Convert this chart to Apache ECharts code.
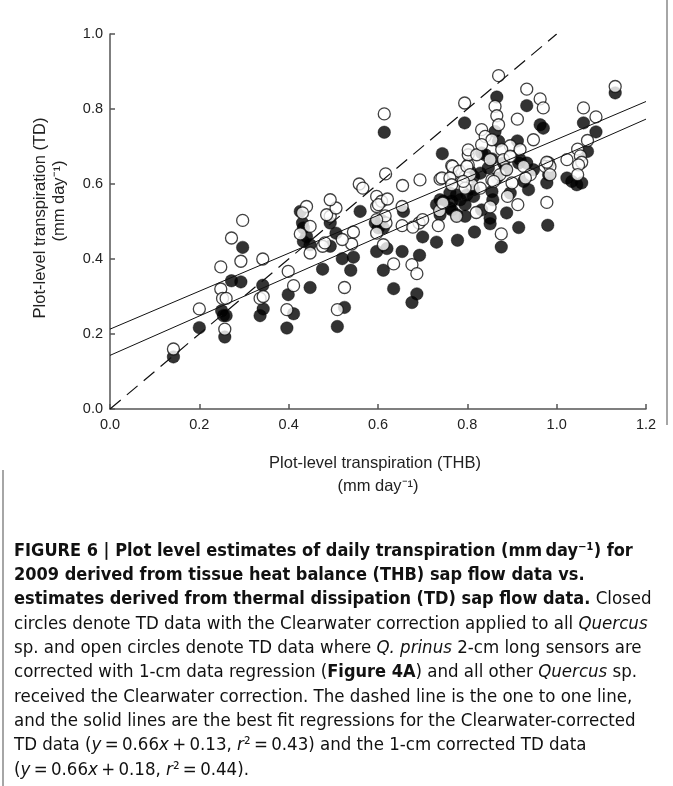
<!DOCTYPE html>
<html>
<head>
<meta charset="utf-8">
<script src="https://cdn.jsdelivr.net/npm/echarts@6/dist/echarts.min.js"></script>
<style>
  html, body { margin: 0; padding: 0; background: #fff; }
  #container { width: 673px; height: 786px; }
</style>
</head>
<body>
<div id="container"></div>
<script>
// THB (x) vs TD (y), mm/day
var closedPts = [
  [0.142,0.139],[0.200,0.217],[0.250,0.262],[0.254,0.249],[0.260,0.249],[0.257,0.192],[0.272,0.342],[0.297,0.431],
  [0.293,0.339],[0.342,0.330],[0.343,0.267],[0.336,0.249],[0.399,0.305],[0.396,0.216],[0.411,0.254],
  [0.448,0.324],[0.525,0.271],[0.509,0.220],[0.476,0.373],[0.539,0.370],[0.520,0.401],[0.545,0.405],[0.493,0.434],
  [0.506,0.469],[0.612,0.370],[0.635,0.321],[0.676,0.284],[0.687,0.307],[0.654,0.420],[0.693,0.410],[0.597,0.420],
  [0.620,0.428],[0.700,0.459],[0.731,0.445],[0.778,0.450],[0.816,0.472],[0.594,0.496],[0.608,0.503],[0.657,0.527],
  [0.560,0.527],[0.493,0.496],[0.426,0.527],[0.431,0.496],[0.433,0.447],[0.448,0.438],[0.440,0.460],[0.433,0.483],
  [0.601,0.483],[0.612,0.483],
  [0.614,0.738],[0.794,0.763],[0.744,0.681],[0.761,0.576],[0.776,0.571],[0.799,0.571],[0.814,0.567],[0.765,0.554],
  [0.784,0.558],[0.795,0.545],[0.731,0.545],[0.746,0.554],[0.739,0.518],[0.761,0.536],[0.776,0.518],[0.795,0.514],
  [0.739,0.558],[0.765,0.531],
  [0.866,0.832],[0.933,0.809],[0.963,0.758],[0.970,0.749],[0.862,0.740],[0.870,0.714],[0.912,0.715],[0.840,0.678],
  [0.855,0.667],[0.918,0.665],[0.933,0.656],[0.948,0.638],[0.982,0.625],[0.806,0.634],[0.829,0.629],[0.847,0.643],
  [0.866,0.616],[0.885,0.638],[0.881,0.656],[0.915,0.656],[0.832,0.683],
  [1.131,0.843],[1.060,0.763],[1.088,0.739],[1.069,0.687],[1.023,0.616],[1.034,0.607],[1.045,0.598],[1.056,0.603],
  [0.978,0.603],[0.888,0.523],[0.980,0.490],[0.915,0.484],[0.876,0.432],[0.851,0.509],[0.851,0.494],[0.832,0.531],
  [0.857,0.558],[0.855,0.580],[0.937,0.585],[0.896,0.576],[0.926,0.607],[0.814,0.620],[0.814,0.585]
];
var openPts = [
  [0.142,0.160],[0.200,0.267],[0.248,0.379],[0.248,0.320],[0.252,0.295],[0.260,0.295],[0.257,0.213],[0.272,0.456],
  [0.297,0.503],[0.293,0.394],[0.342,0.400],[0.336,0.295],[0.343,0.300],[0.399,0.367],[0.396,0.265],[0.411,0.329],
  [0.525,0.324],[0.509,0.265],[0.541,0.440],[0.520,0.452],[0.476,0.434],[0.481,0.443],[0.545,0.472],[0.635,0.387],
  [0.676,0.385],[0.687,0.361],[0.612,0.438],[0.735,0.489],[0.692,0.496],[0.700,0.505],[0.654,0.489],[0.678,0.485],
  [0.597,0.469],[0.618,0.496],[0.616,0.515],[0.597,0.505],[0.597,0.540],[0.654,0.540],[0.493,0.514],[0.485,0.518],
  [0.506,0.536],[0.493,0.558],[0.440,0.540],[0.431,0.523],[0.448,0.487],[0.426,0.467],[0.448,0.416],
  [0.614,0.787],[0.617,0.627],[0.558,0.600],[0.566,0.589],[0.655,0.596],[0.694,0.611],[0.739,0.613],[0.761,0.611],
  [0.597,0.567],[0.608,0.554],[0.601,0.545],[0.621,0.560],[0.738,0.529],[0.745,0.549],[0.776,0.514],
  [0.794,0.816],[0.765,0.649],[0.769,0.629],[0.788,0.634],[0.802,0.651],[0.802,0.678],[0.802,0.691],[0.821,0.678],
  [0.795,0.620],[0.810,0.598],[0.795,0.589],[0.870,0.889],[0.933,0.853],[0.963,0.827],[0.970,0.803],[0.862,0.807],
  [0.866,0.782],[0.870,0.758],[0.912,0.773],[0.832,0.745],[0.840,0.727],[0.855,0.718],[0.832,0.705],[0.948,0.718],
  [0.896,0.702],[0.918,0.692],[0.877,0.692],[0.881,0.665],[0.896,0.674],[0.851,0.665],[0.982,0.656],[0.974,0.647],
  [0.767,0.647],[0.782,0.634],[0.799,0.647],[0.806,0.625],[0.855,0.611],[0.873,0.625],[0.888,0.638],[0.926,0.647],
  [0.941,0.625],[0.930,0.616],[0.743,0.616],[0.761,0.616],
  [1.131,0.860],[1.060,0.803],[1.088,0.779],[1.069,0.716],[1.047,0.693],[1.053,0.675],[1.056,0.658],[1.049,0.651],
  [1.023,0.665],[1.047,0.625],[0.985,0.647],[0.985,0.625],[0.978,0.658],[0.978,0.551],[0.913,0.545],[0.820,0.524],
  [0.876,0.467],[0.851,0.539],[0.829,0.589],[0.890,0.567],[0.900,0.603],[0.859,0.607],[0.765,0.598],[0.791,0.607]
];
// 1:1 line and the two fitted lines as drawn
var oneToOne = [[0, 0], [1.0, 1.0]];
var fitClosed = [[0, 0.143], [1.2, 0.773]];
var fitOpen = [[0, 0.213], [1.2, 0.820]];
var xTicks = [0, 0.2, 0.4, 0.6, 0.8, 1.0, 1.2];
var yTicks = [0, 0.2, 0.4, 0.6, 0.8, 1.0];

var captionLines = [
  '{b|FIGURE 6 | Plot level estimates of daily transpiration (mm\u2009day\u207b\u00b9) for}',
  '{b|2009 derived from tissue heat balance (THB) sap flow data vs.}',
  '{b|estimates derived from thermal dissipation (TD) sap flow data.} Closed',
  'circles denote TD data with the Clearwater correction applied to all {i|Quercus}',
  'sp. and open circles denote TD data where {i|Q. prinus} 2-cm long sensors are',
  'corrected with 1-cm data regression ({b|Figure 4A}) and all other {i|Quercus} sp.',
  'received the Clearwater correction. The dashed line is the one to one line,',
  'and the solid lines are the best fit regressions for the Clearwater-corrected',
  'TD data ({i|y}\u2009=\u20090.66{i|x}\u2009+\u20090.13, {i|r}\u00b2\u2009=\u20090.43) and the 1-cm corrected TD data',
  '({i|y}\u2009=\u20090.66{i|x}\u2009+\u20090.18, {i|r}\u00b2\u2009=\u20090.44).'
];

var dom = document.getElementById('container');
var myChart = echarts.init(dom, null, {renderer: 'canvas'});

var axisFont = 'Liberation Sans, Arial, sans-serif';
var capFont = '"Liberation Sans Narrow", "Arial Narrow", "DejaVu Sans Condensed", sans-serif';
var capSize = 18.5;
var capBold = 18;
var titleSize = 16.5;

var graphics = [
  {
    type: 'text', x: 40, y: 218, rotation: Math.PI / 2,
    style: {text: 'Plot-level transpiration (TD)', font: titleSize + 'px ' + axisFont, fill: '#222', align: 'center', verticalAlign: 'middle'}
  },
  {
    type: 'text', x: 59, y: 201, rotation: Math.PI / 2,
    style: {text: '(mm day\u207b\u00b9)', font: titleSize + 'px ' + axisFont, fill: '#222', align: 'center', verticalAlign: 'middle'}
  },
  {
    type: 'text', x: 375, y: 463,
    style: {text: 'Plot-level transpiration (THB)', font: titleSize + 'px ' + axisFont, fill: '#222', align: 'center', verticalAlign: 'middle'}
  },
  {
    type: 'text', x: 378, y: 486,
    style: {text: '(mm day\u207b\u00b9)', font: titleSize + 'px ' + axisFont, fill: '#222', align: 'center', verticalAlign: 'middle'}
  },
  // frame edges of the figure panel
  {type: 'line', shape: {x1: 667, y1: 0, x2: 667, y2: 425}, style: {stroke: '#888', lineWidth: 1.5}},
  {type: 'line', shape: {x1: 3, y1: 470, x2: 3, y2: 786}, style: {stroke: '#888', lineWidth: 1.5}}
];

for (var i = 0; i < captionLines.length; i++) {
  graphics.push({
    type: 'text', x: 14, y: 551 + i * 24.3,
    style: {
      text: captionLines[i],
      font: capSize + 'px ' + capFont,
      fill: '#111',
      align: 'left',
      verticalAlign: 'middle',
      rich: {
        b: {fontWeight: 'bold', fontSize: capBold, fontFamily: capFont, fill: '#111'},
        i: {fontStyle: 'italic', fontSize: capSize, fontFamily: capFont, fill: '#111'}
      }
    }
  });
}

var axisCommon = {
  type: 'value',
  interval: 0.2,
  axisLine: {show: true, lineStyle: {color: '#555', width: 1.5}},
  axisTick: {show: true, inside: true, length: 5, lineStyle: {color: '#555', width: 1.5}},
  splitLine: {show: false},
  axisLabel: {
    color: '#222', fontSize: 14.5, fontFamily: axisFont,
    formatter: function (v) { return v.toFixed(1); }
  }
};

var option = {
  backgroundColor: '#fff',
  animation: false,
  grid: {left: 110, right: 27, top: 34, height: 375},
  xAxis: Object.assign({}, axisCommon, {
    min: xTicks[0], max: xTicks[xTicks.length - 1],
    axisLabel: Object.assign({}, axisCommon.axisLabel, {margin: 8})
  }),
  yAxis: Object.assign({}, axisCommon, {
    min: yTicks[0], max: yTicks[yTicks.length - 1],
    axisLabel: Object.assign({}, axisCommon.axisLabel, {margin: 7})
  }),
  graphic: graphics,
  series: [
    {
      name: 'Clearwater', type: 'scatter', data: closedPts,
      symbol: 'circle', symbolSize: 12.5,
      itemStyle: {color: '#000', borderColor: '#000', borderWidth: 0.5},
      z: 2
    },
    {
      name: '1-cm', type: 'scatter', data: openPts,
      symbol: 'circle', symbolSize: 12,
      itemStyle: {color: '#fff', borderColor: '#111', borderWidth: 1.3},
      z: 3
    },
    {
      name: '1:1', type: 'line', data: oneToOne, showSymbol: false, symbol: 'none',
      lineStyle: {color: '#111', width: 1.2, type: [14, 8]}, z: 4
    },
    {
      name: 'fit closed', type: 'line', data: fitClosed, showSymbol: false, symbol: 'none',
      lineStyle: {color: '#111', width: 1}, z: 4
    },
    {
      name: 'fit open', type: 'line', data: fitOpen, showSymbol: false, symbol: 'none',
      lineStyle: {color: '#111', width: 1}, z: 4
    }
  ]
};
myChart.setOption(option);
</script>
</body>
</html>
